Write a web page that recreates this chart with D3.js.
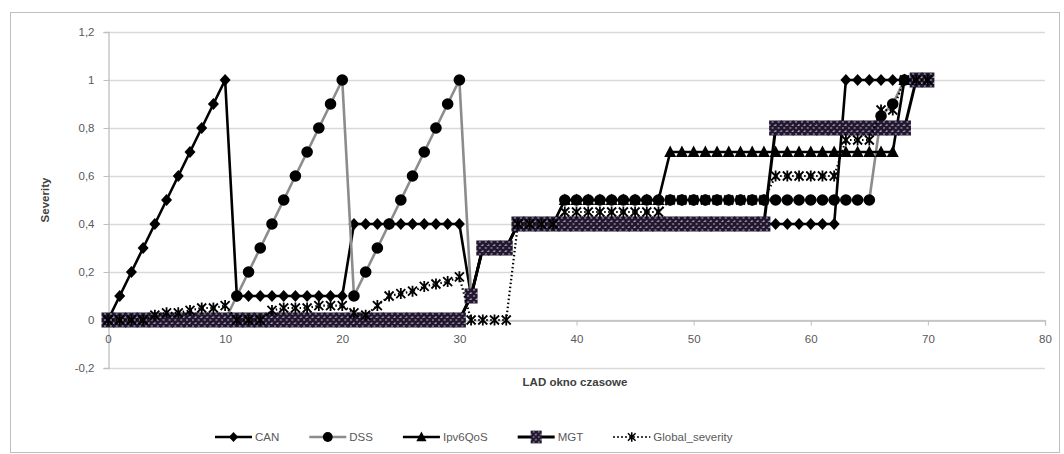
<!DOCTYPE html>
<html>
<head>
<meta charset="utf-8">
<script src="https://cdn.jsdelivr.net/npm/d3@7"></script>
<style>
  body { margin: 0; background: #fff; }
  svg { display: block; font-family: 'Liberation Sans', Arial, sans-serif; }
</style>
</head>
<body>
<div id="chart"></div>
<script>
const windows = d3.range(0, 71)

const can = [0, 0.1, 0.2, 0.3, 0.4, 0.5, 0.6, 0.7, 0.8, 0.9, 1,
  0.1, 0.1, 0.1, 0.1, 0.1, 0.1, 0.1, 0.1, 0.1, 0.1,
  0.4, 0.4, 0.4, 0.4, 0.4, 0.4, 0.4, 0.4, 0.4, 0.4,
  0.1, 0.3, 0.3, 0.3,
  0.4, 0.4, 0.4, 0.4, 0.4, 0.4, 0.4, 0.4, 0.4, 0.4, 0.4, 0.4, 0.4, 0.4,
  0.4, 0.4, 0.4, 0.4, 0.4, 0.4, 0.4, 0.4, 0.4, 0.4, 0.4, 0.4, 0.4, 0.4,
  1, 1, 1, 1, 1, 1, null, null]

const dss = [0, 0, 0, 0, 0, 0, 0, 0, 0, 0, 0,
  0.1, 0.2, 0.3, 0.4, 0.5, 0.6, 0.7, 0.8, 0.9, 1,
  0.1, 0.2, 0.3, 0.4, 0.5, 0.6, 0.7, 0.8, 0.9, 1,
  0.1, 0.3, 0.3, 0.3, 0.4, 0.4, 0.4, 0.4,
  0.5, 0.5, 0.5, 0.5, 0.5, 0.5, 0.5, 0.5, 0.5, 0.5, 0.5, 0.5, 0.5, 0.5,
  0.5, 0.5, 0.5, 0.5, 0.5, 0.5, 0.5, 0.5, 0.5, 0.5, 0.5, 0.5, 0.5,
  0.85, 0.9, 1, null, null]

const ipv6qos = [0, 0, 0, 0, 0, 0, 0, 0, 0, 0, 0,
  0, 0, 0, 0, 0, 0, 0, 0, 0, 0,
  0, 0, 0, 0, 0, 0, 0, 0, 0, 0,
  0.1, 0.3, 0.3, 0.3, 0.4, 0.4, 0.4, 0.4,
  0.5, 0.5, 0.5, 0.5, 0.5, 0.5, 0.5, 0.5, 0.5,
  0.7, 0.7, 0.7, 0.7, 0.7, 0.7, 0.7, 0.7, 0.7, 0.7,
  0.7, 0.7, 0.7, 0.7, 0.7, 0.7, 0.7, 0.7, 0.7, 0.7,
  1, null, null]

const mgt = [0, 0, 0, 0, 0, 0, 0, 0, 0, 0, 0,
  0, 0, 0, 0, 0, 0, 0, 0, 0, 0,
  0, 0, 0, 0, 0, 0, 0, 0, 0, 0,
  0.1, 0.3, 0.3, 0.3,
  0.4, 0.4, 0.4, 0.4, 0.4, 0.4, 0.4, 0.4, 0.4, 0.4, 0.4,
  0.4, 0.4, 0.4, 0.4, 0.4, 0.4, 0.4, 0.4, 0.4, 0.4, 0.4,
  0.8, 0.8, 0.8, 0.8, 0.8, 0.8, 0.8, 0.8, 0.8, 0.8, 0.8, 0.8,
  1, 1]

const globalSeverity = [0, 0, 0, 0, 0.02, 0.03, 0.03, 0.04, 0.05, 0.05, 0.06,
  0, 0, 0, 0.04, 0.05, 0.05, 0.05, 0.06, 0.06, 0.06,
  0.03, 0.02, 0.06, 0.1, 0.11, 0.12, 0.14, 0.15, 0.16, 0.18,
  0, 0, 0, 0, 0.4, 0.4, 0.4, 0.4,
  0.45, 0.45, 0.45, 0.45, 0.45, 0.45, 0.45, 0.45, 0.45,
  0.5, 0.5, 0.5, 0.5, 0.5, 0.5, 0.5, 0.5, 0.5,
  0.6, 0.6, 0.6, 0.6, 0.6, 0.6,
  0.75, 0.75, 0.75, 0.875, 0.875, 1, 1, 1]

const seriesNames = ['CAN', 'DSS', 'Ipv6QoS', 'MGT', 'Global_severity']
const seriesValues = [can, dss, ipv6qos, mgt, globalSeverity]
const yTicks = [-0.2, 0, 0.2, 0.4, 0.6, 0.8, 1, 1.2]
const xTicks = [0, 10, 20, 30, 40, 50, 60, 70, 80]

const styles = {
  CAN: { stroke: '#000', width: 2.6, dash: null, marker: 'diamond' },
  DSS: { stroke: '#8c8c8c', width: 2.6, dash: null, marker: 'circle' },
  Ipv6QoS: { stroke: '#000', width: 2.6, dash: null, marker: 'triangle' },
  MGT: { stroke: '#000', width: 3, dash: null, marker: 'square' },
  Global_severity: { stroke: '#000', width: 2.2, dash: '1.5,2.5', marker: 'star' }
}

const W = 1064
const H = 454
const plot = { left: 108, right: 1045, top: 32, bottom: 368 }

const svg = d3.select('#chart').append('svg')
  .attr('width', W)
  .attr('height', H)

const defs = svg.append('defs')
const pat = defs.append('pattern')
  .attr('id', 'hatch')
  .attr('width', 6)
  .attr('height', 6)
  .attr('patternUnits', 'userSpaceOnUse')
pat.append('rect').attr('width', 6).attr('height', 6).attr('fill', '#b3a9c2')
pat.append('path')
  .attr('d', 'M0,0L6,6M6,0L0,6M-1,5L1,7M5,-1L7,1')
  .attr('stroke', '#21182f')
  .attr('stroke-width', 2.8)

svg.append('rect')
  .attr('x', 10.5).attr('y', 12.5)
  .attr('width', 1049).attr('height', 440)
  .attr('fill', '#fff')
  .attr('stroke', '#bfbfbf')

const x = d3.scaleLinear().domain([0, 80]).range([plot.left, plot.right])
const y = d3.scaleLinear().domain([-0.2, 1.2]).range([plot.bottom, plot.top])

// gridlines
svg.append('g')
  .selectAll('line')
  .data(yTicks)
  .enter().append('line')
  .attr('x1', plot.left).attr('x2', plot.right)
  .attr('y1', d => Math.round(y(d)) + 0.5)
  .attr('y2', d => Math.round(y(d)) + 0.5)
  .attr('stroke', '#d9d9d9')
  .attr('stroke-width', 1.3)

const yAxis = svg.append('g')
  .attr('transform', `translate(${plot.left + 0.5},0)`)
  .call(d3.axisLeft(y).tickValues(yTicks).tickSize(5).tickPadding(9)
    .tickFormat(d => d3.format('.1~f')(d).replace('.', ',').replace('\u2212', '-')))
yAxis.select('.domain').attr('stroke', '#bfbfbf').attr('stroke-width', 1.3)
yAxis.selectAll('.tick line').attr('stroke', '#bfbfbf')
yAxis.selectAll('text').attr('fill', '#595959').attr('font-size', 11.5)

const xAxis = svg.append('g')
  .attr('transform', `translate(0,${Math.round(y(0)) + 0.5})`)
  .call(d3.axisBottom(x).tickValues(xTicks).tickSize(5).tickPadding(9))
xAxis.select('.domain').attr('stroke', '#bfbfbf').attr('stroke-width', 1.3)
xAxis.selectAll('.tick line').attr('stroke', '#bfbfbf')
xAxis.selectAll('text').attr('fill', '#595959').attr('font-size', 11.5)

svg.append('text')
  .attr('transform', 'translate(49,200) rotate(-90)')
  .attr('text-anchor', 'middle')
  .attr('font-size', 11.5)
  .attr('font-weight', 'bold')
  .attr('fill', '#404040')
  .text('Severity')

svg.append('text')
  .attr('x', 575).attr('y', 386)
  .attr('text-anchor', 'middle')
  .attr('font-size', 11.5)
  .attr('font-weight', 'bold')
  .attr('fill', '#404040')
  .text('LAD okno czasowe')

const drawMarker = (sel, kind) => {
  if (kind === 'diamond') {
    sel.append('path').attr('d', 'M0,-6L5.5,0L0,6L-5.5,0Z').attr('fill', '#000')
  } else if (kind === 'circle') {
    sel.append('circle').attr('r', 5.8).attr('fill', '#000')
  } else if (kind === 'triangle') {
    sel.append('path').attr('d', 'M0,-6.5L6,5L-6,5Z').attr('fill', '#000')
  } else if (kind === 'square') {
    sel.append('rect')
      .attr('x', -6.5).attr('y', -7.5).attr('width', 13).attr('height', 15)
      .attr('fill', 'url(#hatch)')
  } else {
    sel.append('path')
      .attr('d', 'M-4.5,-4.5L4.5,4.5M-4.5,4.5L4.5,-4.5M0,-5.5L0,5.5')
      .attr('stroke', '#000')
      .attr('stroke-width', 1.8)
      .attr('fill', 'none')
  }
}

const line = d3.line()
  .defined(d => d.v !== null)
  .x(d => x(d.x))
  .y(d => y(d.v))

seriesNames.forEach((name, i) => {
  const st = styles[name]
  const pts = windows.map((w, j) => ({ x: w, v: seriesValues[i][j] }))
  const g = svg.append('g').attr('class', 'series')

  g.append('path')
    .datum(pts)
    .attr('d', line)
    .attr('fill', 'none')
    .attr('stroke', st.stroke)
    .attr('stroke-width', st.width)
    .attr('stroke-dasharray', st.dash)
    .attr('stroke-linejoin', 'round')

  g.selectAll('.mk')
    .data(pts.filter(d => d.v !== null))
    .enter().append('g')
    .attr('class', 'mk')
    .attr('transform', d => `translate(${x(d.x)},${y(d.v)})`)
    .each(function () { drawMarker(d3.select(this), st.marker) })
})

// legend
const legend = svg.append('g').attr('class', 'legend')
let cursor = 0
seriesNames.forEach(name => {
  const st = styles[name]
  const item = legend.append('g').attr('transform', `translate(${cursor},0)`)
  item.append('line')
    .attr('x1', 0).attr('x2', 37)
    .attr('stroke', st.stroke)
    .attr('stroke-width', st.width)
    .attr('stroke-dasharray', st.dash)
  const mk = item.append('g')
    .attr('transform', 'translate(18.5,0) scale(0.85)')
  drawMarker(mk, st.marker)
  const label = item.append('text')
    .attr('x', 40).attr('y', 4)
    .attr('font-size', 11.5)
    .attr('fill', '#595959')
    .text(name)
  cursor += 40 + label.node().getComputedTextLength() + 30
})
const legendWidth = cursor - 30
legend.attr('transform', `translate(${Math.round(474 - legendWidth / 2)},437)`)
</script>
</body>
</html>
